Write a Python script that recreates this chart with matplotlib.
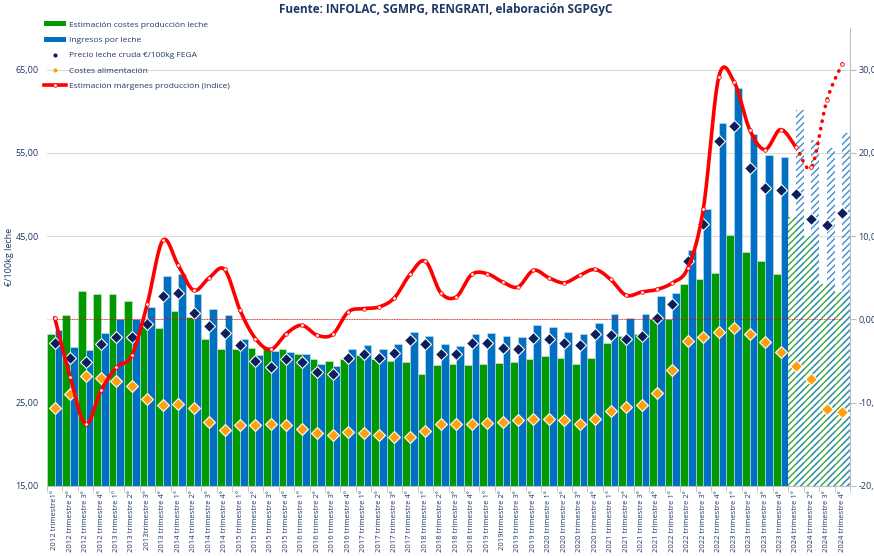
import numpy as np
import matplotlib
matplotlib.use("Agg")
import matplotlib.pyplot as plt
from matplotlib.patches import Patch
from matplotlib.lines import Line2D

plt.rcParams['font.family'] = ['Open Sans', 'DejaVu Sans']
plt.rcParams['hatch.linewidth'] = 1.0

# quarters 2012 T1 .. 2024 T4
quarters = []
for year in range(2012, 2025):
    for q in ['1º', '2º', '3º', '4º']:
        quarters.append('%d trimestre %s' % (year, q))
# labels exactly as typed in the source
quarters[0] = '2012 trimestre1º'
quarters[6] = '2013trimestre 3º'
quarters[29] = '2019trimestre 2º'
quarters[32] = '2020 trimestre 1ª'

# Estimación costes producción leche (€/100kg)
costes_prod = [33.2, 35.5, 38.45, 38.1, 38.0, 37.2, 34.8, 34.0, 36.05, 35.3,
               32.7, 31.4, 31.5, 31.6, 31.7, 31.5, 30.9, 30.3, 30.0, 30.3,
               30.7, 30.2, 30.0, 29.9, 28.4, 29.5, 29.65, 29.5, 29.65, 29.8,
               29.9, 30.2, 30.6, 30.4, 29.6, 30.4, 32.2, 33.0, 33.2, 35.0,
               35.0, 39.3, 39.9, 40.6, 45.2, 43.1, 42.0, 40.4, 47.3, 45.0,
               39.2, 38.3]
# Ingresos por leche
ingresos = [33.7, 31.7, 31.3, 33.4, 35.0, 35.0, 36.5, 40.2, 40.4, 38.0,
            36.2, 35.5, 32.6, 30.7, 31.2, 31.1, 30.9, 29.6, 29.4, 31.4,
            31.9, 31.5, 32.0, 33.55, 33.0, 32.0, 31.8, 33.3, 33.4, 33.0,
            32.9, 34.3, 34.1, 33.55, 33.3, 34.55, 35.7, 35.2, 35.6, 37.8,
            38.2, 43.4, 48.3, 58.6, 62.8, 57.3, 54.75, 54.5, 60.2, 56.6,
            55.6, 57.4]
# Precio leche cruda €/100kg FEGA
precio_fega = [32.2, 30.4, 29.9, 32.0, 32.9, 32.9, 34.4, 37.8, 38.2, 35.8,
               34.2, 33.35, 31.9, 30.0, 29.3, 30.3, 29.9, 28.65, 28.45, 30.4,
               30.9, 30.4, 31.0, 32.5, 32.0, 30.9, 30.8, 32.2, 32.15, 31.6,
               31.5, 32.8, 32.7, 32.2, 31.9, 33.2, 33.1, 32.6, 33.0, 35.2,
               36.8, 42.0, 46.5, 56.45, 58.2, 53.2, 50.75, 50.6, 50.1, 47.05,
               46.4, 47.8]
# Costes alimentación
costes_alim = [24.4, 26.1, 28.25, 28.0, 27.6, 27.0, 25.4, 24.75, 24.9, 24.4,
               22.7, 21.7, 22.3, 22.35, 22.5, 22.3, 21.8, 21.35, 21.15, 21.5,
               21.35, 21.1, 20.9, 20.9, 21.65, 22.5, 22.5, 22.4, 22.55, 22.7,
               22.9, 23.1, 23.1, 22.95, 22.4, 23.0, 24.0, 24.5, 24.7, 26.2,
               28.9, 32.4, 32.9, 33.5, 34.0, 33.2, 32.3, 31.1, 29.4, 27.9,
               24.3, 23.9]
# Estimación márgenes producción (índice), eje derecho
margen = [0.2, -6.9, -12.6, -8.5, -5.75, -4.3, 1.9, 9.5, 6.5, 3.5,
          5.0, 6.0, 1.1, -2.3, -3.6, -1.7, -0.7, -1.9, -1.8, 0.9,
          1.3, 1.5, 2.6, 5.4, 7.0, 3.2, 2.7, 5.4, 5.5, 4.5,
          3.9, 5.9, 5.0, 4.4, 5.3, 6.0, 4.8, 2.9, 3.3, 3.6,
          4.4, 6.2, 13.25, 29.1, 28.5, 22.8, 20.4, 22.8, 20.7, 18.3,
          26.3, 30.7]
n_real = 48  # from 2024 on: estimates (hatched / dotted)

navy = '#1f3864'
green = '#009a00'
blue = '#0070c0'
dark = '#0c1f5a'
orange = '#ffa010'
red = '#ff0000'


def smooth(xs, ys, n=16):
    # catmull-rom like excel "smoothed line"
    px, py = [], []
    m = len(xs)
    for i in range(m - 1):
        i0, i3 = max(i - 1, 0), min(i + 2, m - 1)
        t = np.linspace(0, 1, n, endpoint=False)
        for arr, out in ((xs, px), (ys, py)):
            p0, p1, p2, p3 = arr[i0], arr[i], arr[i + 1], arr[i3]
            out.extend(0.5 * (2 * p1 + (-p0 + p2) * t
                              + (2 * p0 - 5 * p1 + 4 * p2 - p3) * t ** 2
                              + (-p0 + 3 * p1 - 3 * p2 + p3) * t ** 3))
    px.append(xs[-1])
    py.append(ys[-1])
    return np.array(px), np.array(py)


fig = plt.figure(figsize=(8.74, 5.56), dpi=100)
ax = fig.add_axes([47 / 874, 1 - 486 / 556, 803 / 874, 458 / 556])
ax2 = ax.twinx()

x = np.arange(len(quarters))
w = 0.5
xr, xe = x[:n_real], x[n_real:]
ax.bar(xr - w / 2, costes_prod[:n_real], w, color=green,
       edgecolor='#d8e8d8', linewidth=0.4, zorder=2)
ax.bar(xr + w / 2, ingresos[:n_real], w, color=blue,
       edgecolor='#cfe0f0', linewidth=0.4, zorder=2)
# 2024 estimates, hatched
ax.bar(xe, costes_prod[n_real:], 2 * w, color='white', edgecolor='#3aa33a',
       hatch='/////', linewidth=0, zorder=2)
ax.bar(xe + w / 2, ingresos[n_real:], w, color='none', edgecolor='#3f8fd0',
       hatch='/////', linewidth=0, zorder=2.1)

ax.set_ylim(15, 70)
ax.set_xlim(-0.5, len(quarters) - 0.5)
ax.set_yticks([15, 25, 35, 45, 55, 65])
ax.set_yticklabels(['15,00', '25,00', '', '45,00', '55,00', '65,00'])
ax.grid(axis='y', color='#dcdcdc', linewidth=0.8, zorder=0)
ax.set_axisbelow(True)
ax.tick_params(axis='y', length=0, labelsize=6.5, labelcolor=navy, pad=6)
ax.set_xticks(x)
ax.set_xticklabels(quarters, rotation=90, fontsize=5.5, color=navy)
ax.tick_params(axis='x', length=0, pad=3)
ax.set_xticks(np.arange(-0.5, len(quarters), 1), minor=True)
ax.tick_params(axis='x', which='minor', length=4, color='#bfbfbf')
ax.set_ylabel('€/100kg leche', fontsize=6.5, color=navy)
ax.yaxis.set_label_coords(-33 / 803, 0.5)
for s in ['left', 'top', 'right']:
    ax.spines[s].set_visible(False)
ax.spines['bottom'].set_color('#bfbfbf')

ax.plot(x, precio_fega, linestyle='none', marker='D', markersize=6.5,
        markerfacecolor=dark, markeredgecolor='white', markeredgewidth=0.8,
        zorder=5)
ax.plot(x, costes_alim, linestyle='none', marker='D', markersize=6,
        markerfacecolor=orange, markeredgecolor='white', markeredgewidth=0.8,
        zorder=5)

# right axis: margin index
ax2.set_ylim(-20, 35)
ax2.set_yticks([-20, -10, 0, 10, 20, 30])
ax2.set_yticklabels(['-20,00', '-10,00', '0,00', '10,00', '20,00', '30,00'])
ax2.tick_params(axis='y', length=4, color='#bfbfbf', labelsize=6.5,
                labelcolor=navy, pad=2)
for s in ['left', 'top', 'bottom']:
    ax2.spines[s].set_visible(False)
ax2.spines['right'].set_color('#bfbfbf')
ax2.axhline(0, xmin=0.01, xmax=0.99, color=red, linestyle=(0, (1, 1)),
            linewidth=0.6, zorder=1)

sx, sy = smooth(x.astype(float), np.array(margen, float))
cut = n_real * 16 + 1
ax2.plot(sx[:cut], sy[:cut], color=red, linewidth=2.6, solid_capstyle='round',
         zorder=6)
ax2.plot(sx[cut - 1:], sy[cut - 1:], color=red, linewidth=2.6,
         linestyle=(0, (0.1, 2.0)), dash_capstyle='round', zorder=6)
ax2.plot(x, margen, linestyle='none', marker='o', markersize=2.6,
         markerfacecolor='white', markeredgecolor=red, markeredgewidth=0.6,
         zorder=7)

fig.text(446 / 874, 1 - 10 / 556, 'Fuente: INFOLAC, SGMPG, RENGRATI, elaboración SGPGyC',
         ha='center', va='center', fontsize=8.5, fontweight='bold', color=navy)

handles = [
    Patch(facecolor=green),
    Patch(facecolor=blue),
    Line2D([], [], linestyle='none', marker='.', markersize=4, color=dark),
    Line2D([], [], linestyle='none', marker='.', markersize=4, color=orange),
    Line2D([], [], color=red, linewidth=2.6, marker='o', markersize=2.6,
           markerfacecolor='white', markeredgewidth=0.6),
]
labels = ['Estimación costes producción leche', 'Ingresos por leche',
          'Precio leche cruda €/100kg FEGA', 'Costes alimentación',
          'Estimación márgenes producción (indice)']
leg = fig.legend(handles, labels, loc='upper left',
                 bbox_to_anchor=(40 / 874, 1 - 17 / 556), frameon=False,
                 fontsize=6, handlelength=2.6, handleheight=0.55,
                 handletextpad=0.35, labelspacing=0.95, borderpad=0)
for t in leg.get_texts():
    t.set_color(navy)

fig.savefig('out.png', dpi=100)
